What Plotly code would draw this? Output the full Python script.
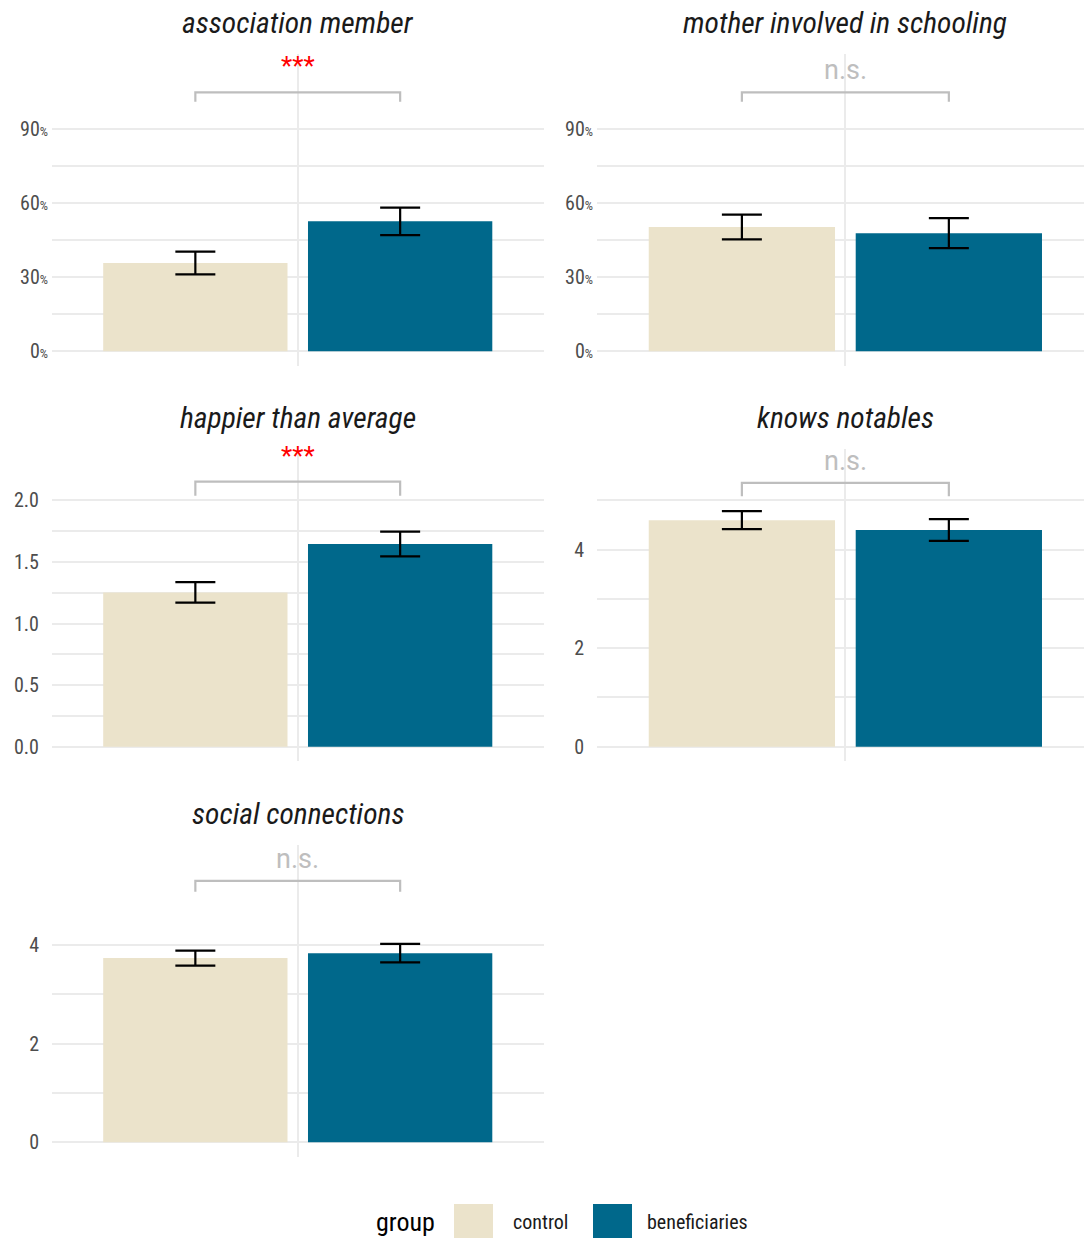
import plotly.graph_objects as go

# ---- data -------------------------------------------------------------
panels = ["association member", "mother involved in schooling",
          "happier than average", "knows notables", "social connections"]
groups = ["control", "beneficiaries"]

control_mean = [0.358, 0.504, 1.252, 4.595, 3.735]
control_err = [0.046, 0.050, 0.083, 0.183, 0.152]
benef_mean = [0.527, 0.479, 1.645, 4.395, 3.835]
benef_err = [0.056, 0.061, 0.100, 0.220, 0.186]

sig_labels = ["***", "n.s.", "***", "n.s.", "n.s."]
bracket_y = [1.05, 1.05, 2.15, 5.35, 5.30]
bracket_tip = [1.012, 1.012, 2.035, 5.08, 5.08]
y_upper = [1.15, 1.15, 2.30, 5.75, 5.75]

y_ticks = [[0, 0.3, 0.6, 0.9], [0, 0.3, 0.6, 0.9],
           [0, 0.5, 1.0, 1.5, 2.0], [0, 2, 4], [0, 2, 4]]
y_minor = [[0.15, 0.45, 0.75], [0.15, 0.45, 0.75],
           [0.25, 0.75, 1.25, 1.75], [1, 3, 5], [1, 3]]
percent_panel = [True, True, False, False, False]

# ---- styling ----------------------------------------------------------
W, H = 1084, 1238
FONT = "Roboto Condensed, Roboto, sans-serif"
COL_CONTROL = "#EBE3CB"
COL_BENEF = "#00688B"
GRID = "#EBEBEB"
BRACKET = "#BEBEBE"

# panel boxes in pixels: (left, right, top, bottom), and x ranges
col_px = [(52, 543.5), (597, 1084)]
row_px = [(53.5, 365.5), (449, 761), (844.5, 1156.5)]
col_xrange = [[-0.7, 1.7], [-0.7, 1.653]]
layout_pos = [(0, 0), (0, 1), (1, 0), (1, 1), (2, 0)]

fig = go.Figure()
annotations = []
shapes = []
layout = {}

for i, name in enumerate(panels):
    r, c = layout_pos[i]
    n = i + 1
    xa = "x" if n == 1 else f"x{n}"
    ya = "y" if n == 1 else f"y{n}"
    xkey = "xaxis" if n == 1 else f"xaxis{n}"
    ykey = "yaxis" if n == 1 else f"yaxis{n}"

    left, right = col_px[c]
    top, bottom = row_px[r]

    top_val = y_upper[i]
    yr = [-0.05 * top_val, 1.05 * top_val]

    if percent_panel[i]:
        ticktext = [f"{v * 100:.0f}<span style='font-size:13px'>%</span>" for v in y_ticks[i]]
        standoff = 3
    elif i == 2:
        ticktext = [f"{v:.1f}" for v in y_ticks[i]]
        standoff = 12
    else:
        ticktext = [f"{v:g}" for v in y_ticks[i]]
        standoff = 12

    layout[xkey] = dict(
        domain=[left / W, right / W], range=col_xrange[c], anchor=ya,
        tickvals=[0.5], showticklabels=False, showgrid=True,
        gridcolor=GRID, gridwidth=2, zeroline=False, showline=False,
        ticks="", fixedrange=True,
    )
    layout[ykey] = dict(
        domain=[1 - bottom / H, 1 - top / H], range=yr, anchor=xa,
        tickvals=y_ticks[i], ticktext=ticktext, showgrid=True,
        gridcolor=GRID, gridwidth=2, zeroline=False, showline=False,
        ticks="", ticklabelstandoff=standoff,
        tickfont=dict(family=FONT, size=20, color="#4D4D4D"),
        minor=dict(tickvals=y_minor[i], showgrid=True, gridcolor=GRID,
                   gridwidth=1.6, ticks=""),
        fixedrange=True,
    )

    # bars with error bars
    for gx, (mean, err, col) in enumerate([
        (control_mean[i], control_err[i], COL_CONTROL),
        (benef_mean[i], benef_err[i], COL_BENEF),
    ]):
        fig.add_trace(go.Bar(
            x=[gx], y=[mean], width=0.9, xaxis=xa, yaxis=ya,
            marker=dict(color=col, line=dict(width=0)),
            error_y=dict(type="data", array=[err], visible=True,
                         color="black", thickness=2.2, width=20),
            name=groups[gx], showlegend=False, hoverinfo="skip",
        ))

    # significance bracket
    fig.add_trace(go.Scatter(
        x=[0, 0, 1, 1],
        y=[bracket_tip[i], bracket_y[i], bracket_y[i], bracket_tip[i]],
        mode="lines", line=dict(color=BRACKET, width=2.2),
        xaxis=xa, yaxis=ya, showlegend=False, hoverinfo="skip",
        cliponaxis=False,
    ))
    is_star = sig_labels[i] == "***"
    annotations.append(dict(
        x=0.5, y=bracket_y[i], xref=xa, yref=ya, text=sig_labels[i],
        showarrow=False, yanchor="bottom", xanchor="center",
        yshift=9 if is_star else 4,
        font=dict(family="Roboto, sans-serif", size=26 if is_star else 27,
                  color="#FF0000" if is_star else "#BEBEBE"),
    ))

    # panel title
    annotations.append(dict(
        x=0.5, xref=xa, y=1 - (top - 31) / H, yref="paper", text=f"<i>{name}</i>",
        showarrow=False, xanchor="center", yanchor="middle",
        font=dict(family=FONT, size=29.5, color="#1A1A1A"),
    ))

# ---- legend (bottom, horizontal) --------------------------------------
leg_y0, leg_y1 = 1204, 1242
annotations.append(dict(
    x=437 / W, y=1 - 1222 / H, xref="paper", yref="paper", text="group",
    showarrow=False, xanchor="right", yanchor="middle",
    font=dict(family=FONT, size=26, color="#000000"),
))
for (x0, x1, tx, label, col) in [
    (454, 493, 511, "control", COL_CONTROL),
    (593, 632, 645, "beneficiaries", COL_BENEF),
]:
    shapes.append(dict(
        type="rect", xref="paper", yref="paper",
        x0=x0 / W, x1=x1 / W, y0=1 - leg_y1 / H, y1=1 - leg_y0 / H,
        fillcolor=col, line=dict(width=0), layer="above",
    ))
    annotations.append(dict(
        x=tx / W, y=1 - 1222 / H, xref="paper", yref="paper", text=label,
        showarrow=False, xanchor="left", yanchor="middle",
        font=dict(family=FONT, size=20, color="#1A1A1A"),
    ))

fig.update_layout(
    width=W, height=H,
    margin=dict(l=0, r=0, t=0, b=0),
    paper_bgcolor="white", plot_bgcolor="white",
    barmode="overlay", showlegend=False,
    annotations=annotations, shapes=shapes,
    font=dict(family=FONT),
    **layout,
)

fig.write_html("out.html")
